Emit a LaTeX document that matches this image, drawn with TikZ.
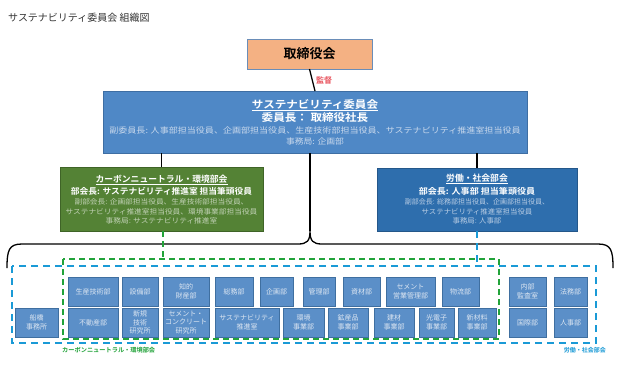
\documentclass[tikz,border=0pt]{standalone}
\usepackage{fontspec}
\usepackage{graphicx}
\setmainfont{Noto Sans CJK JP}[BoldFont={* Bold}]
\definecolor{orangeF}{HTML}{F4B183}
\definecolor{orangeB}{HTML}{6A8DB8}
\definecolor{commF}{HTML}{4F88C6}
\definecolor{commB}{HTML}{3E6EA3}
\definecolor{greenF}{HTML}{548235}
\definecolor{greenB}{HTML}{3F6427}
\definecolor{blueF}{HTML}{2E6EAD}
\definecolor{blueB}{HTML}{24578A}
\definecolor{sboxF}{HTML}{5B8FC8}
\definecolor{sboxB}{HTML}{3F6FA0}
\definecolor{lightT}{HTML}{C8D8EC}
\definecolor{lightG}{HTML}{C2D2B6}
\definecolor{lightB}{HTML}{B9CDE4}
\definecolor{sboxT}{HTML}{DCE6F2}
\definecolor{dashG}{HTML}{22A33A}
\definecolor{dashB}{HTML}{1A9AD6}
\definecolor{redT}{HTML}{E8505A}
\definecolor{titleT}{HTML}{333333}
\tikzset{
  sbox/.style={draw=sboxB, line width=0.6pt, fill=sboxF, text=sboxT, inner sep=0pt, outer sep=0pt,
    align=center, font=\fontsize{7}{8.7}\selectfont},
  bigbox/.style={inner sep=0pt, outer sep=0pt, line width=0.7pt},
  conn/.style={line width=1.3pt, black},
  gdash/.style={dashG, line width=1.6pt, dash pattern=on 6pt off 4pt},
  bdash/.style={dashB, line width=1.6pt, dash pattern=on 7pt off 5pt},
  txt/.style={inner sep=0pt, align=center},
}
\newcommand\hs[2]{\scalebox{#1}[1]{#2}}
\newcommand\bx[6]{\node[sbox, minimum width={(#4-#2)*1pt}, minimum height={(#5-#3)*1pt}] (#1) at ({(#2+#4)/2},{(#3+#5)/2}) {#6};}
\newcommand\bigbx[7]{\node[bigbox, #7, minimum width={(#4-#2)*1pt}, minimum height={(#5-#3)*1pt}] (#1) at ({(#2+#4)/2},{(#3+#5)/2}) {#6};}
\begin{document}
\begin{tikzpicture}[x=1pt, y=-1pt]
\useasboundingbox (0,0) rectangle (621,365);
\fill[white] (0,0) rectangle (621,365);
% title
\node[txt, anchor=west, text=titleT, font=\fontsize{10}{12}\selectfont] (title) at (8,18) {サステナビリティ委員会 組織図};
% board
\bigbx{board}{247}{39}{372}{69}{}{draw=orangeB, fill=orangeF}
\node[txt, font=\bfseries\fontsize{13}{15}\selectfont] (boardT) at (board.center) {取締役会};
% committee
\bigbx{comm}{103}{91}{527}{153}{}{draw=commB, fill=commF}
\node[txt, text=white, font=\bfseries\fontsize{10.5}{12}\selectfont] (c1) at (315,105) {\hs{1.1}{\underline{サステナビリティ委員会}}};
\node[txt, text=white, font=\bfseries\fontsize{10.5}{12}\selectfont] (c2) at (315,118) {\hs{1.1}{委員長： 取締役社長}};
\node[txt, text=lightT, font=\fontsize{8}{9}\selectfont] (c3) at (315,130) {\hs{1.13}{副委員長: 人事部担当役員、企画部担当役員、生産技術部担当役員、サステナビリティ推進室担当役員}};
\node[txt, text=lightT, font=\fontsize{8}{9}\selectfont] (c4) at (315,141) {\hs{1.1}{事務局: 企画部}};
% green committee
\bigbx{green}{60}{167}{263}{231}{}{draw=greenB, fill=greenF}
\node[txt, text=white, font=\bfseries\fontsize{8.8}{10}\selectfont] (g1) at (161.5,180) {\underline{カーボンニュートラル・環境部会}};
\node[txt, text=white, font=\bfseries\fontsize{8.3}{10}\selectfont] (g2) at (161.5,191) {\hs{1.05}{部会長: サステナビリティ推進室 担当筆頭役員}};
\node[txt, text=lightG, font=\fontsize{7}{8}\selectfont] (g3) at (161.5,202) {\hs{1.1}{副部会長: 企画部担当役員、生産技術部担当役員、}};
\node[txt, text=lightG, font=\fontsize{7}{8}\selectfont] (g4) at (161.5,211.5) {\hs{1.1}{サステナビリティ推進室担当役員、環境事業部担当役員}};
\node[txt, text=lightG, font=\fontsize{7}{8}\selectfont] (g5) at (161.5,221) {\hs{1.1}{事務局: サステナビリティ推進室}};
% blue committee
\bigbx{blue}{377}{168}{577}{231}{}{draw=blueB, fill=blueF}
\node[txt, text=white, font=\bfseries\fontsize{8.8}{10}\selectfont] (b1) at (477,179) {\underline{労働・社会部会}};
\node[txt, text=white, font=\bfseries\fontsize{8.3}{10}\selectfont] (b2) at (477,191) {\hs{1.09}{部会長: 人事部 担当筆頭役員}};
\node[txt, text=lightB, font=\fontsize{7}{8}\selectfont] (b3) at (477,202) {副部会長: 総務部担当役員、企画部担当役員、};
\node[txt, text=lightB, font=\fontsize{7}{8}\selectfont] (b4) at (477,211.5) {\hs{1.06}{サステナビリティ推進室担当役員}};
\node[txt, text=lightB, font=\fontsize{7}{8}\selectfont] (b5) at (477,221) {\hs{1.06}{事務局: 人事部}};
% connectors
\draw[conn] (board.south) -- (comm.north);
\node[txt, anchor=west, text=redT, font=\bfseries\fontsize{8}{9}\selectfont] (kantoku) at (316,80) {監督};
\draw[conn] (comm.south -| green.north) -- (green.north);
\draw[conn] (comm.south -| blue.north) -- (blue.north);
\coordinate (tip) at (310,231);
\draw[conn] (comm.south -| tip) -- (tip);
% brace
\coordinate (bl) at (7,268);
\coordinate (br) at (613,268);
\draw[line width=1.3pt, line join=round] (bl) .. controls (7,250) and (9,244) .. (22,244) -- (298,244)
  .. controls (307,244) and (310,241) .. (tip) .. controls (310,241) and (313,244) .. (322,244) -- (598,244)
  .. controls (611,244) and (613,250) .. (br);
% dashed regions
\coordinate (gtop) at (163,259);
\coordinate (btop) at (477,266);
\draw[bdash] (12,266) rectangle (596,343);
\draw[gdash] (63,259) rectangle (499,339);
\draw[gdash] (green.south -| gtop) -- (gtop);
\draw[bdash] (blue.south -| btop) -- (btop);
\node[txt, anchor=west, text=dashG, font=\bfseries\fontsize{6.2}{7}\selectfont] (glab) at (62,350) {カーボンニュートラル・環境部会};
\node[txt, anchor=east, text=dashB, font=\bfseries\fontsize{6}{7}\selectfont] (blab) at (606,350) {労働・社会部会};
% row 1
\bx{r1a}{68}{277}{118}{306}{生産技術部}
\bx{r1b}{122}{277}{158}{306}{設備部}
\bx{r1c}{163}{277}{209}{306}{知的\\財産部}
\bx{r1d}{215}{277}{253}{306}{総務部}
\bx{r1e}{260}{277}{293}{306}{企画部}
\bx{r1f}{303}{277}{335}{306}{管理部}
\bx{r1g}{343}{277}{380}{306}{資材部}
\bx{r1h}{386}{277}{435}{306}{セメント\\営業管理部}
\bx{r1i}{442}{277}{479}{306}{物流部}
\bx{r1j}{509}{277}{546}{306}{内部\\監査室}
\bx{r1k}{554}{277}{587}{306}{法務部}
% row 2
\bx{r2z}{15}{308}{58}{337}{船橋\\事務所}
\bx{r2a}{68}{308}{118}{337}{不動産部}
\bx{r2b}{122}{308}{158}{337}{新規\\技術\\研究所}
\bx{r2c}{163}{308}{209}{337}{セメント・\\コンクリート\\研究所}
\bx{r2d}{215}{308}{279}{337}{サステナビリティ\\推進室}
\bx{r2e}{283}{308}{324}{337}{環境\\事業部}
\bx{r2f}{328}{308}{368}{337}{鉱産品\\事業部}
\bx{r2g}{374}{308}{414}{337}{建材\\事業部}
\bx{r2h}{419}{308}{454}{337}{光電子\\事業部}
\bx{r2i}{458}{308}{496}{337}{新材料\\事業部}
\bx{r2j}{509}{308}{546}{337}{国際部}
\bx{r2k}{554}{308}{587}{337}{人事部}
\end{tikzpicture}
\end{document}
